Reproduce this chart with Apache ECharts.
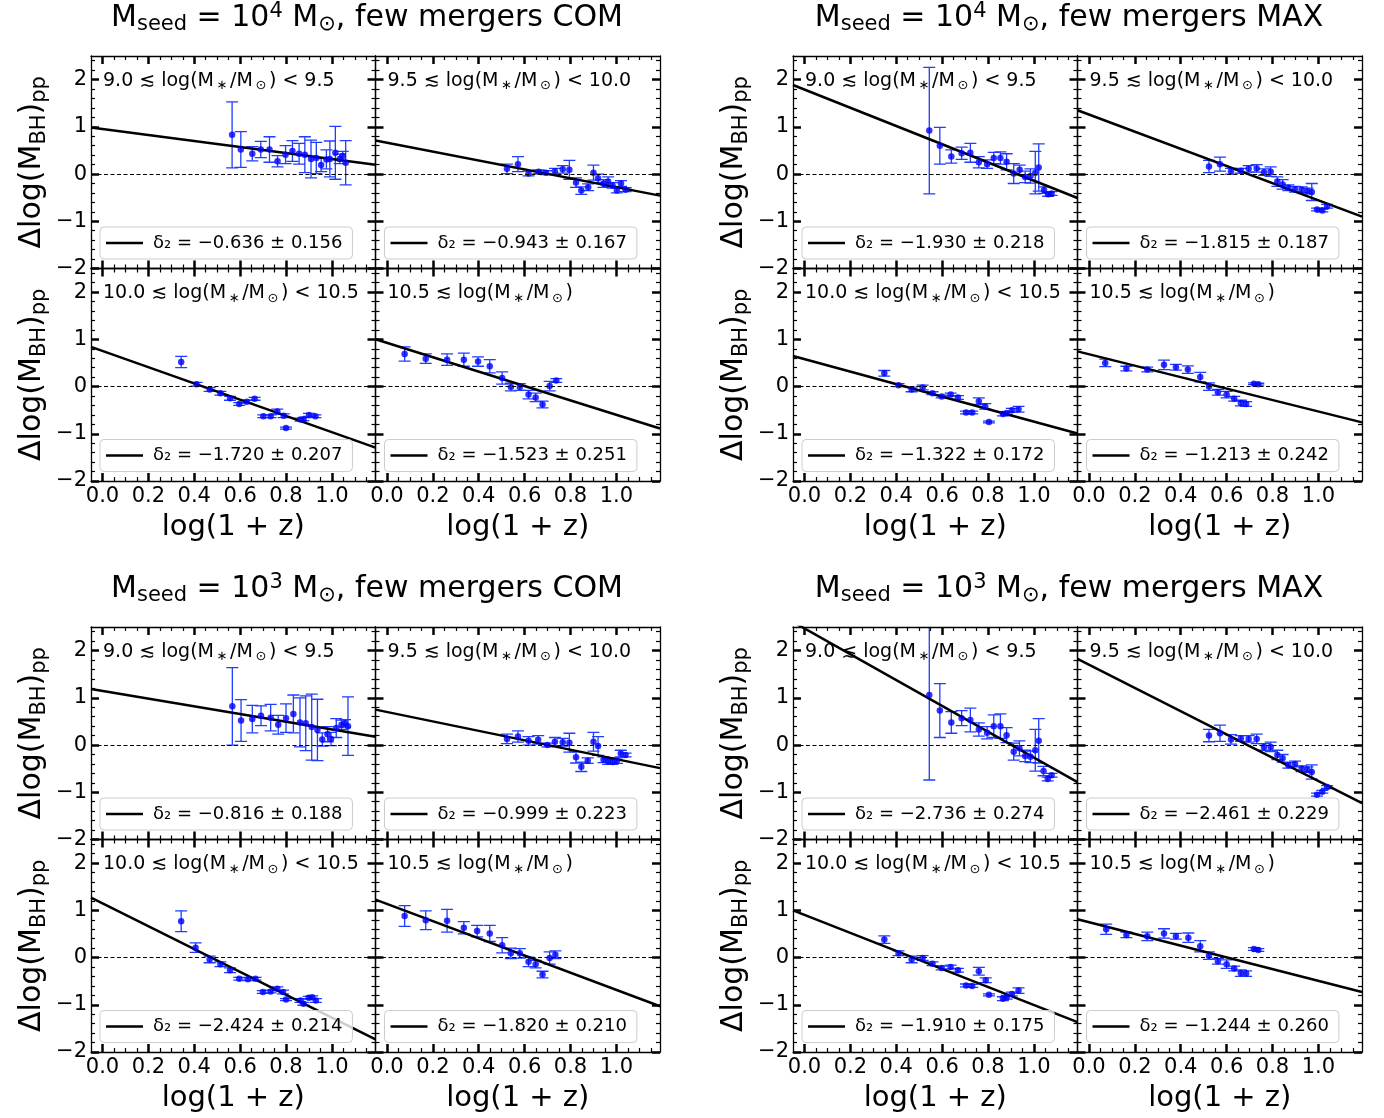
<!DOCTYPE html>
<html>
<head>
<meta charset="utf-8">
<script src="https://cdn.jsdelivr.net/npm/echarts@6/dist/echarts.min.js"></script>
<style>
html,body{margin:0;padding:0;background:#ffffff;}
#chart{width:1384px;height:1118px;}
</style>
</head>
<body>
<div id="chart"></div>
<script>
// ---------------- DATA ----------------
// axis ticks
const xMajor = [0, 0.2, 0.4, 0.6, 0.8, 1.0];
const xMinor = [0.05,0.1,0.15,0.25,0.3,0.35,0.45,0.5,0.55,0.65,0.7,0.75,0.85,0.9,0.95,1.05,1.1,1.15];
const yMajor = [-2, -1, 0, 1, 2];
const yMinor = [-1.8,-1.6,-1.4,-1.2,-0.8,-0.6,-0.4,-0.2,0.2,0.4,0.6,0.8,1.2,1.4,1.6,1.8,2.2,2.4];
const XMIN = -0.05, XMAX = 1.19, YMIN = -2, YMAX = 2.5;

// group titles
const seedExp = ['4', '4', '3', '3'];
const modelName = ['COM', 'MAX', 'COM', 'MAX'];
// stellar-mass bins
const binLow = ['9.0', '9.5', '10.0', '10.5'];
const binHigh = ['9.5', '10.0', '10.5', ''];

// fit results (slope, error, intercept) per bin
const m4com_slope = [-0.636, -0.943, -1.720, -1.523];
const m4com_serr  = [0.156, 0.167, 0.207, 0.251];
const m4com_icpt  = [0.955, 0.665, 0.755, 0.925];
const m4max_slope = [-1.930, -1.815, -1.322, -1.213];
const m4max_serr  = [0.218, 0.187, 0.172, 0.242];
const m4max_icpt  = [1.79, 1.26, 0.58, 0.685];
const m3com_slope = [-0.816, -0.999, -2.424, -1.820];
const m3com_serr  = [0.188, 0.223, 0.214, 0.210];
const m3com_icpt  = [1.145, 0.70, 1.15, 1.135];
const m3max_slope = [-2.736, -2.461, -1.910, -1.244];
const m3max_serr  = [0.274, 0.229, 0.175, 0.260];
const m3max_icpt  = [2.47, 1.70, 0.905, 0.75];

// ---- Mseed 1e4, COM ----
const m4com_b1_x = [0.565,0.603,0.653,0.69,0.728,0.763,0.798,0.828,0.857,0.882,0.909,0.932,0.953,0.976,0.991,1.015,1.034,1.047,1.06];
const m4com_b1_y = [0.83,0.52,0.43,0.52,0.52,0.27,0.41,0.49,0.43,0.41,0.32,0.34,0.19,0.31,0.32,0.45,0.32,0.38,0.24];
const m4com_b1_e = [0.70,0.38,0.15,0.17,0.27,0.12,0.19,0.22,0.22,0.38,0.40,0.33,0.14,0.20,0.38,0.56,0.10,0.10,0.47];
const m4com_b2_x = [0.523,0.571,0.617,0.661,0.693,0.732,0.766,0.795,0.824,0.847,0.877,0.9,0.92,0.944,0.964,0.983,1.002,1.02,1.04];
const m4com_b2_y = [0.11,0.21,0.01,0.05,0.03,0.06,0.10,0.09,-0.18,-0.35,-0.28,0.03,-0.09,-0.20,-0.16,-0.24,-0.35,-0.20,-0.33];
const m4com_b2_e = [0.10,0.16,0.05,0.04,0.04,0.06,0.08,0.20,0.10,0.08,0.07,0.16,0.09,0.08,0.10,0.06,0.05,0.06,0.04];
const m4com_b3_x = [0.343,0.41,0.467,0.514,0.556,0.596,0.629,0.663,0.701,0.733,0.762,0.79,0.8,0.863,0.876,0.9,0.928];
const m4com_b3_y = [0.52,0.05,-0.06,-0.14,-0.25,-0.37,-0.32,-0.26,-0.63,-0.63,-0.53,-0.62,-0.88,-0.70,-0.69,-0.60,-0.63];
const m4com_b3_e = [0.12,0.04,0.04,0.04,0.04,0.03,0.03,0.03,0.03,0.03,0.05,0.04,0.02,0.03,0.03,0.03,0.03];
const m4com_b4_x = [0.077,0.169,0.262,0.335,0.397,0.448,0.502,0.54,0.579,0.617,0.648,0.678,0.709,0.738];
const m4com_b4_y = [0.69,0.59,0.57,0.57,0.53,0.43,0.18,-0.01,-0.01,-0.17,-0.23,-0.38,0.01,0.13];
const m4com_b4_e = [0.15,0.10,0.12,0.14,0.10,0.14,0.13,0.08,0.07,0.09,0.09,0.07,0.10,0.04];

// ---- Mseed 1e4, MAX ----
const m4max_b1_x = [0.544,0.59,0.64,0.685,0.723,0.76,0.796,0.825,0.854,0.881,0.912,0.938,0.962,0.985,1.006,1.021,1.044,1.062,1.077];
const m4max_b1_y = [0.92,0.60,0.37,0.44,0.45,0.25,0.21,0.34,0.34,0.26,0.01,0.09,-0.06,-0.04,0.03,0.14,-0.34,-0.43,-0.41];
const m4max_b1_e = [1.34,0.39,0.14,0.13,0.20,0.12,0.09,0.12,0.13,0.17,0.21,0.10,0.12,0.15,0.45,0.50,0.07,0.04,0.04];
const m4max_b2_x = [0.523,0.571,0.619,0.662,0.696,0.731,0.763,0.792,0.821,0.844,0.869,0.898,0.927,0.952,0.971,0.994,1.017,1.038];
const m4max_b2_y = [0.16,0.21,0.06,0.07,0.11,0.12,0.04,0.05,-0.16,-0.22,-0.29,-0.32,-0.33,-0.36,-0.38,-0.75,-0.77,-0.68];
const m4max_b2_e = [0.13,0.15,0.06,0.05,0.07,0.08,0.07,0.10,0.10,0.10,0.06,0.06,0.06,0.06,0.18,0.03,0.03,0.04];
const m4max_b3_x = [0.348,0.41,0.467,0.515,0.558,0.598,0.637,0.669,0.704,0.731,0.76,0.788,0.804,0.865,0.881,0.904,0.933];
const m4max_b3_y = [0.28,0.03,-0.06,-0.02,-0.14,-0.21,-0.17,-0.23,-0.55,-0.55,-0.31,-0.42,-0.75,-0.58,-0.56,-0.50,-0.48];
const m4max_b3_e = [0.06,0.03,0.05,0.05,0.03,0.03,0.03,0.04,0.03,0.03,0.07,0.06,0.02,0.04,0.03,0.04,0.06];
const m4max_b4_x = [0.071,0.163,0.254,0.327,0.379,0.431,0.485,0.523,0.562,0.6,0.633,0.662,0.685,0.719,0.738];
const m4max_b4_y = [0.50,0.38,0.36,0.46,0.41,0.36,0.20,0.00,-0.12,-0.17,-0.26,-0.35,-0.37,0.06,0.05];
const m4max_b4_e = [0.08,0.05,0.05,0.10,0.06,0.08,0.10,0.08,0.06,0.07,0.05,0.06,0.05,0.02,0.02];

// ---- Mseed 1e3, COM ----
const m3com_b1_x = [0.566,0.604,0.653,0.691,0.733,0.766,0.8,0.832,0.861,0.886,0.912,0.937,0.958,0.981,0.996,1.019,1.042,1.057,1.07];
const m3com_b1_y = [0.82,0.52,0.55,0.62,0.58,0.43,0.57,0.66,0.48,0.46,0.38,0.32,0.12,0.23,0.13,0.36,0.43,0.46,0.40];
const m3com_b1_e = [0.82,0.44,0.29,0.21,0.28,0.20,0.30,0.40,0.52,0.58,0.70,0.65,0.14,0.16,0.14,0.20,0.10,0.08,0.62];
const m3com_b2_x = [0.523,0.571,0.617,0.659,0.699,0.732,0.766,0.795,0.824,0.847,0.875,0.9,0.92,0.944,0.964,0.983,1.002,1.019,1.04];
const m3com_b2_y = [0.13,0.18,0.09,0.11,0.00,0.07,0.06,0.05,-0.26,-0.46,-0.33,0.07,-0.02,-0.31,-0.35,-0.36,-0.33,-0.18,-0.21];
const m3com_b2_e = [0.10,0.12,0.09,0.09,0.04,0.09,0.08,0.20,0.12,0.10,0.06,0.20,0.20,0.06,0.06,0.05,0.06,0.07,0.04];
const m3com_b3_x = [0.343,0.406,0.467,0.514,0.556,0.596,0.634,0.667,0.699,0.733,0.762,0.787,0.8,0.863,0.876,0.899,0.914,0.93];
const m3com_b3_y = [0.77,0.21,-0.04,-0.14,-0.27,-0.45,-0.46,-0.45,-0.73,-0.72,-0.66,-0.73,-0.89,-0.91,-0.98,-0.85,-0.84,-0.91];
const m3com_b3_e = [0.22,0.10,0.07,0.05,0.05,0.03,0.03,0.03,0.03,0.03,0.04,0.04,0.02,0.04,0.03,0.03,0.03,0.04];
const m3com_b4_x = [0.077,0.169,0.262,0.335,0.393,0.448,0.502,0.54,0.579,0.617,0.648,0.678,0.709,0.734];
const m3com_b4_y = [0.88,0.79,0.78,0.63,0.56,0.51,0.26,0.09,0.09,-0.09,-0.14,-0.36,-0.01,0.06];
const m3com_b4_e = [0.22,0.20,0.24,0.13,0.12,0.17,0.16,0.11,0.10,0.10,0.08,0.07,0.13,0.08];

// ---- Mseed 1e3, MAX ----
const m3max_b1_x = [0.544,0.59,0.64,0.685,0.723,0.76,0.796,0.825,0.854,0.881,0.912,0.937,0.962,0.985,1.006,1.021,1.042,1.06,1.077];
const m3max_b1_y = [1.06,0.73,0.48,0.57,0.53,0.33,0.26,0.40,0.40,0.21,-0.14,-0.07,-0.23,-0.25,-0.11,0.09,-0.55,-0.72,-0.64];
const m3max_b1_e = [1.80,0.57,0.23,0.16,0.25,0.14,0.13,0.24,0.26,0.16,0.18,0.16,0.12,0.12,0.44,0.47,0.10,0.04,0.04];
const m3max_b2_x = [0.523,0.571,0.619,0.662,0.696,0.731,0.763,0.792,0.821,0.844,0.869,0.898,0.927,0.952,0.971,0.994,1.017,1.038];
const m3max_b2_y = [0.20,0.25,0.12,0.14,0.13,0.13,-0.04,-0.04,-0.21,-0.28,-0.43,-0.40,-0.50,-0.52,-0.57,-1.05,-0.99,-0.89];
const m3max_b2_e = [0.13,0.17,0.10,0.06,0.07,0.10,0.07,0.10,0.10,0.08,0.06,0.06,0.06,0.06,0.15,0.03,0.03,0.03];
const m3max_b3_x = [0.348,0.41,0.467,0.515,0.558,0.598,0.637,0.669,0.704,0.731,0.76,0.79,0.804,0.865,0.881,0.904,0.933];
const m3max_b3_y = [0.38,0.09,-0.04,-0.01,-0.13,-0.22,-0.20,-0.27,-0.59,-0.60,-0.29,-0.48,-0.79,-0.87,-0.84,-0.77,-0.70];
const m3max_b3_e = [0.08,0.05,0.07,0.05,0.04,0.04,0.04,0.04,0.03,0.03,0.08,0.05,0.02,0.04,0.04,0.04,0.06];
const m3max_b4_x = [0.075,0.163,0.254,0.327,0.379,0.433,0.485,0.523,0.562,0.6,0.633,0.662,0.685,0.719,0.738];
const m3max_b4_y = [0.60,0.48,0.45,0.51,0.45,0.42,0.24,0.04,-0.08,-0.14,-0.23,-0.33,-0.34,0.18,0.16];
const m3max_b4_e = [0.11,0.06,0.09,0.10,0.06,0.10,0.12,0.08,0.06,0.09,0.05,0.07,0.06,0.03,0.03];

// ---------------- TABLES BUILT FROM THE ARRAYS ----------------
const groupsData = [
  {slope: m4com_slope, serr: m4com_serr, icpt: m4com_icpt,
   bins: [[m4com_b1_x,m4com_b1_y,m4com_b1_e],[m4com_b2_x,m4com_b2_y,m4com_b2_e],[m4com_b3_x,m4com_b3_y,m4com_b3_e],[m4com_b4_x,m4com_b4_y,m4com_b4_e]]},
  {slope: m4max_slope, serr: m4max_serr, icpt: m4max_icpt,
   bins: [[m4max_b1_x,m4max_b1_y,m4max_b1_e],[m4max_b2_x,m4max_b2_y,m4max_b2_e],[m4max_b3_x,m4max_b3_y,m4max_b3_e],[m4max_b4_x,m4max_b4_y,m4max_b4_e]]},
  {slope: m3com_slope, serr: m3com_serr, icpt: m3com_icpt,
   bins: [[m3com_b1_x,m3com_b1_y,m3com_b1_e],[m3com_b2_x,m3com_b2_y,m3com_b2_e],[m3com_b3_x,m3com_b3_y,m3com_b3_e],[m3com_b4_x,m3com_b4_y,m3com_b4_e]]},
  {slope: m3max_slope, serr: m3max_serr, icpt: m3max_icpt,
   bins: [[m3max_b1_x,m3max_b1_y,m3max_b1_e],[m3max_b2_x,m3max_b2_y,m3max_b2_e],[m3max_b3_x,m3max_b3_y,m3max_b3_e],[m3max_b4_x,m3max_b4_y,m3max_b4_e]]}
];

// ---------------- LAYOUT ----------------
const FONT = 'DejaVu Sans';
const PW = 284.5, PH = 212.5;
const origins = [[91, 56], [793, 56], [91, 627], [793, 627]];
const titleCenters = [[367, 18], [1069, 18], [367, 589], [1069, 589]];

const option = {
  animation: false,
  backgroundColor: '#ffffff',
  title: [], legend: [], grid: [], xAxis: [], yAxis: [], series: []
};

function tickAxis(base, vals, len, width, showLine) {
  return Object.assign({
    type: 'value',
    splitLine: {show: false},
    minorTick: {show: false},
    minorSplitLine: {show: false},
    axisLine: {show: showLine, onZero: false, lineStyle: {color: '#000', width: 1.3}},
    axisTick: {show: true, inside: true, length: len, customValues: vals,
               lineStyle: {color: '#000', width: width}},
    axisLabel: {show: false},
    z: 10
  }, base);
}

function fmtMinus(s) { return String(s).replace('-', '\u2212'); }
function rs(size, lh, va) {
  return {fontFamily: FONT, fontSize: size, lineHeight: lh, verticalAlign: va, color: '#000', fontWeight: 'normal'};
}

let gi = 0;
for (let g = 0; g < 4; g++) {
  const gd = groupsData[g];
  const [ox, oy] = origins[g];
  // group title
  option.title.push({
    text: '{n|M}{s|seed}{n| = 10}{p|' + seedExp[g] + '}{n| M}{s|\u2299}{n|, few mergers ' + modelName[g] + '}',
    left: titleCenters[g][0], top: titleCenters[g][1] - 17, textAlign: 'center', padding: 0,
    textStyle: {
      fontFamily: FONT, color: '#000', fontWeight: 'normal', fontSize: 30,
      rich: {n: rs(30, 34, 'middle'), s: rs(21, 20, 'bottom'), p: rs(21, 20, 'top')}
    }
  });

  for (let k = 0; k < 4; k++) {
    const col = k % 2, row = Math.floor(k / 2);
    const left = ox + col * PW, top = oy + row * PH;
    option.grid.push({left: left, top: top, width: PW, height: PH, containLabel: false, outerBoundsMode: 'none'});

    // x axes: bottom major, bottom minor, top major, top minor
    const xMain = tickAxis({gridIndex: gi, min: XMIN, max: XMAX, position: 'bottom'}, xMajor, 8, 2.5, true);
    xMain.axisLabel = {show: row === 1, customValues: xMajor, margin: 5, color: '#000',
                       fontFamily: FONT, fontSize: 21, formatter: v => v.toFixed(1)};
    if (row === 1) {
      xMain.name = 'log(1 + z)';
      xMain.nameLocation = 'middle';
      xMain.nameGap = 29;
      xMain.nameTextStyle = {fontFamily: FONT, fontSize: 29, lineHeight: 34, color: '#000'};
    }
    option.xAxis.push(xMain);
    option.xAxis.push(tickAxis({gridIndex: gi, min: XMIN, max: XMAX, position: 'bottom'}, xMinor, 4, 1.2, false));
    option.xAxis.push(tickAxis({gridIndex: gi, min: XMIN, max: XMAX, position: 'top'}, xMajor, 8, 2.5, true));
    option.xAxis.push(tickAxis({gridIndex: gi, min: XMIN, max: XMAX, position: 'top'}, xMinor, 4, 1.2, false));

    // y axes: left major, left minor, right major, right minor
    const yMain = tickAxis({gridIndex: gi, min: YMIN, max: YMAX, position: 'left'}, yMajor, 8, 2.5, true);
    yMain.axisLabel = {show: col === 0, customValues: yMajor, margin: 4, color: '#000',
                       fontFamily: FONT, fontSize: 21, formatter: v => fmtMinus(v)};
    if (col === 0) {
      yMain.name = '{n|\u0394log(M}{s|BH}{n|)}{s|pp}';
      yMain.nameLocation = 'middle';
      yMain.nameRotate = 90;
      yMain.nameGap = 41;
      yMain.nameTextStyle = {
        fontFamily: FONT, color: '#000',
        rich: {n: rs(30, 36, 'middle'), s: rs(21, 21, 'bottom')}
      };
    }
    option.yAxis.push(yMain);
    option.yAxis.push(tickAxis({gridIndex: gi, min: YMIN, max: YMAX, position: 'left'}, yMinor, 4, 1.2, false));
    option.yAxis.push(tickAxis({gridIndex: gi, min: YMIN, max: YMAX, position: 'right'}, yMajor, 8, 2.5, true));
    option.yAxis.push(tickAxis({gridIndex: gi, min: YMIN, max: YMAX, position: 'right'}, yMinor, 4, 1.2, false));

    const xi = gi * 4, yi = gi * 4;
    const [bx, by, be] = gd.bins[k];
    const pts = bx.map((x, i) => [x, by[i], be[i]]);
    const slope = gd.slope[k], icpt = gd.icpt[k];
    const legendName = '\u03b4\u2082 = \u2212' + Math.abs(slope).toFixed(3) + ' \u00b1 ' + gd.serr[k].toFixed(3);

    // error bars
    option.series.push({
      type: 'custom', xAxisIndex: xi, yAxisIndex: yi, clip: true, silent: true, z: 2,
      data: pts, encode: {x: 0, y: 1},
      renderItem: function (params, api) {
        const x = api.value(0), y = api.value(1), e = api.value(2);
        const t = api.coord([x, y + e]);
        const b = api.coord([x, y - e]);
        const cw = 6;
        const st = {stroke: '#1f3dff', lineWidth: 1.3, fill: null};
        return {type: 'group', children: [
          {type: 'line', shape: {x1: t[0], y1: t[1], x2: b[0], y2: b[1]}, style: st},
          {type: 'line', shape: {x1: t[0] - cw, y1: t[1], x2: t[0] + cw, y2: t[1]}, style: st},
          {type: 'line', shape: {x1: b[0] - cw, y1: b[1], x2: b[0] + cw, y2: b[1]}, style: st}
        ]};
      }
    });
    // fit line
    option.series.push({
      type: 'line', name: legendName, xAxisIndex: xi, yAxisIndex: yi, z: 3,
      data: [[XMIN, icpt + slope * XMIN], [XMAX, icpt + slope * XMAX]],
      symbol: 'none', clip: true, silent: true, color: '#000000',
      lineStyle: {color: '#000000', width: 2.5}, itemStyle: {color: '#000000'}
    });
    // points + zero line
    option.series.push({
      type: 'scatter', xAxisIndex: xi, yAxisIndex: yi, z: 4, silent: true,
      data: pts.map(p => [p[0], p[1]]), symbol: 'circle', symbolSize: 6.5,
      itemStyle: {color: '#0000ff'},
      markLine: {silent: true, symbol: 'none', animation: false,
        label: {show: false},
        lineStyle: {color: '#000', width: 1, type: [4, 2.5]},
        data: [{yAxis: 0}]}
    });
    // legend
    option.legend.push({
      data: [legendName], left: left + 9, top: top + 171, orient: 'horizontal',
      icon: 'rect', itemWidth: 37, itemHeight: 2.5, selectedMode: false,
      padding: [6, 10, 6, 6], backgroundColor: 'rgba(255,255,255,0.8)',
      borderColor: '#cccccc', borderWidth: 1, borderRadius: 4,
      itemStyle: {color: '#000'},
      textStyle: {fontFamily: FONT, fontSize: 18, color: '#000', lineHeight: 20, padding: [0, 0, 0, 5]}
    });
    // bin label
    option.title.push({
      text: '{n|' + binLow[k] + ' \u2272 log(M}{s|\u2009\u2217\u2009}{n|/M}{s|\u2009\u2299\u2009}{n|)' + (binHigh[k] ? ' < ' + binHigh[k] : '') + '}',
      left: left + 12, top: top + 25 - 11.5, padding: 0,
      textStyle: {
        fontFamily: FONT, color: '#000', fontWeight: 'normal', fontSize: 19,
        rich: {n: rs(19, 23, 'middle'), s: rs(13, 13, 'bottom')}
      }
    });
    gi++;
  }
}

const chart = echarts.init(document.getElementById('chart'), null, {renderer: 'canvas', width: 1384, height: 1118});
chart.setOption(option);
</script>
</body>
</html>
